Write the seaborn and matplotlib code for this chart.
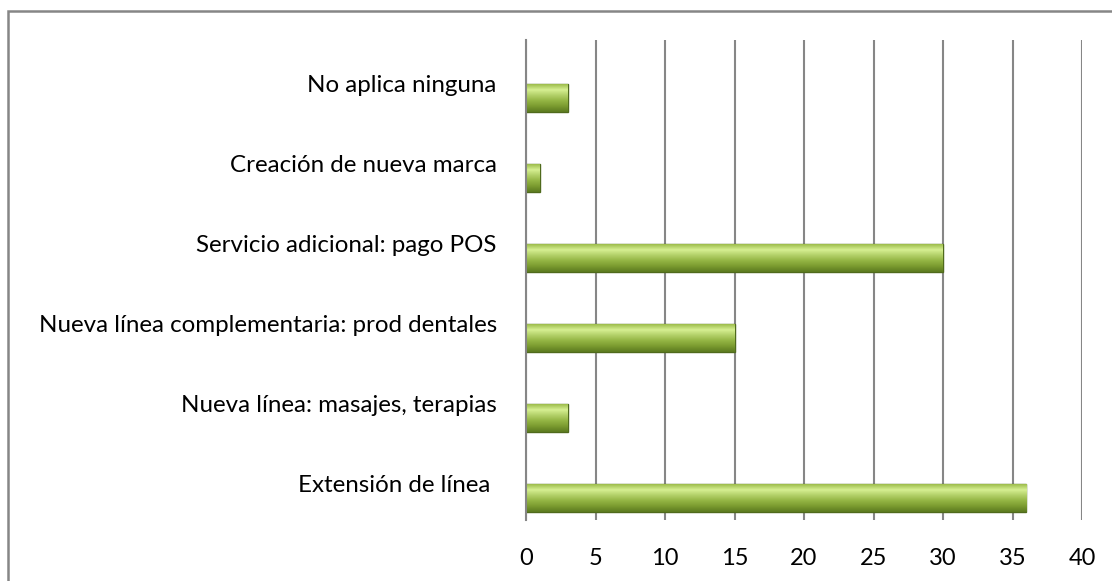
import numpy as np
import pandas as pd
import matplotlib
matplotlib.use("Agg")
import matplotlib.pyplot as plt
import matplotlib.transforms as mtransforms
from matplotlib.patches import Rectangle
from matplotlib.colors import LinearSegmentedColormap
import seaborn as sns

# data
categories = [
    "No aplica ninguna",
    "Creación de nueva marca",
    "Servicio adicional: pago POS",
    "Nueva línea complementaria: prod dentales",
    "Nueva línea: masajes, terapias",
    "Extensión de línea ",
]
values = [3, 1, 30, 15, 3, 36]
x_ticks = [0, 5, 10, 15, 20, 25, 30, 35, 40]

df = pd.DataFrame({"categoria": categories, "valor": values})

sns.set_style("white")
plt.rcParams["font.family"] = ["Lato", "DejaVu Sans"]

fig = plt.figure(figsize=(11.12, 5.81), dpi=100)
ax = fig.add_axes([526 / 1112, 1 - 520 / 581, 556 / 1112, 480 / 581])

sns.barplot(data=df, x="valor", y="categoria", orient="h", width=0.34,
            color="#9bbb59", edgecolor="#4f6a1c", linewidth=1.0, ax=ax)

# bevel-like vertical gradient inside each bar
grad = LinearSegmentedColormap.from_list(
    "bevel", ["#9dbd4c", "#d6ef92", "#b2d068", "#93b443", "#7a9a2f", "#5c7a20"])
g = np.linspace(0, 1, 64).reshape(-1, 1)
for p in ax.patches:
    x0, y0 = p.get_x(), p.get_y()
    w, h = p.get_width(), p.get_height()
    im = ax.imshow(g, cmap=grad, aspect="auto", origin="upper",
                   extent=[x0, x0 + w, y0 + h, y0], zorder=p.get_zorder() + 0.1)
    im.set_clip_path(p)

ax.set_xlim(0, 40)
ax.set_ylim(5.275, -0.725)
ax.set_xticks(x_ticks)
ax.set_xlabel("")
ax.set_ylabel("")

ax.grid(axis="x", color="#868686", linewidth=1.5)
ax.set_axisbelow(True)
for s in ["top", "right", "bottom"]:
    ax.spines[s].set_visible(False)
ax.spines["left"].set_color("#868686")
ax.spines["left"].set_linewidth(1.5)

ax.tick_params(axis="x", length=0, pad=20, labelsize=17, labelcolor="#000000")
ax.tick_params(axis="y", length=0, pad=21, labelsize=17.4, labelcolor="#000000")

# category labels sit a little above the bars
offset = mtransforms.ScaledTranslation(0, 15 / 100, fig.dpi_scale_trans)
for lab in ax.get_yticklabels():
    lab.set_transform(lab.get_transform() + offset)

# chart-area border (cut off at right and bottom)
fig.add_artist(Rectangle((8 / 1112, -0.1), 1.2, 1.1 - 11 / 581,
                         transform=fig.transFigure, fill=False,
                         edgecolor="#868686", linewidth=1.8))

fig.savefig("out.png", dpi=100)
